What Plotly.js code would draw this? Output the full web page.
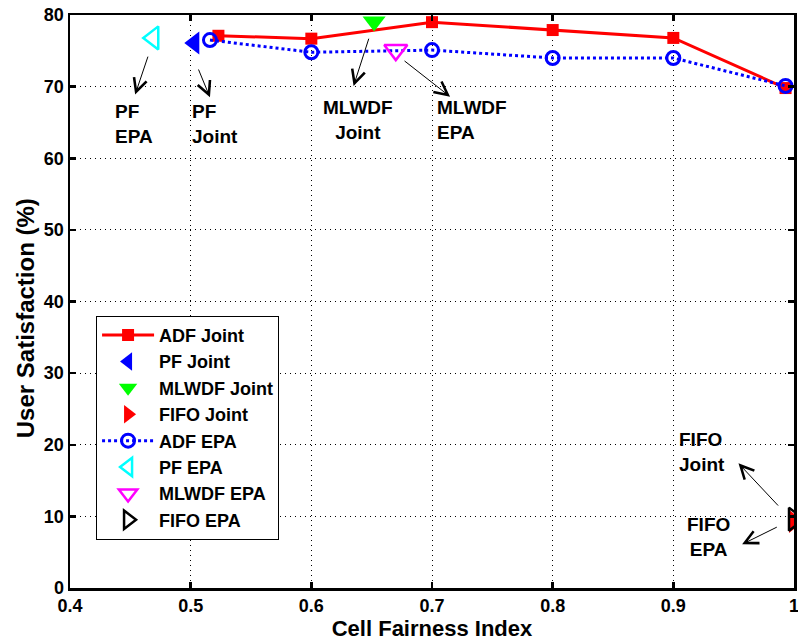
<!DOCTYPE html>
<html>
<head>
<meta charset="utf-8">
<script src="https://cdn.plot.ly/plotly-3.0.1.min.js"></script>
<style>html,body{margin:0;padding:0;background:#fff;}#chart{width:798px;height:641px;}</style>
</head>
<body>
<div id="chart"></div>
<script>
// ---- data ----
const adfJointX = [0.523, 0.6, 0.7, 0.8, 0.9, 0.993];
const adfJointY = [77.1, 76.7, 79.0, 77.9, 76.8, 69.8];
const adfEpaX = [0.516, 0.6, 0.7, 0.8, 0.9, 0.993];
const adfEpaY = [76.5, 74.8, 75.1, 74.0, 74.0, 70.1];
const pfJointX = [0.503], pfJointY = [76.1];
const pfEpaX = [0.469], pfEpaY = [76.8];
const mlwdfJointX = [0.652], mlwdfJointY = [79.1];
const mlwdfEpaX = [0.670], mlwdfEpaY = [75.1];
const fifoJointX = [1.0], fifoJointY = [9.3];
const fifoEpaX = [1.0], fifoEpaY = [9.6];
const seriesNames = ['ADF Joint','PF Joint','MLWDF Joint','FIFO Joint','ADF EPA','PF EPA','MLWDF EPA','FIFO EPA'];
const xTickVals = [0.4, 0.5, 0.6, 0.7, 0.8, 0.9, 1.0];
const xTickText = ['0.4','0.5','0.6','0.7','0.8','0.9','1'];
const yTickVals = [0, 10, 20, 30, 40, 50, 60, 70, 80];
const xTitle = 'Cell Fairness Index';
const yTitle = 'User Satisfaction (%)';
// labels
const labelTexts = ['PF<br>EPA','PF<br>Joint','MLWDF<br>Joint','MLWDF<br>EPA','FIFO<br>Joint','FIFO<br>EPA'];
const labelX = [0.453, 0.520, 0.639, 0.733, 0.924, 0.929];
const labelY = [64.8, 64.8, 65.3, 65.3, 19.0, 7.1];
const labelAlign = ['left','left','center','left','left','center'];
// arrows: tail (near marker) -> head (near text)
const arrowTailX = [0.465, 0.506, 0.648, 0.676, 0.988, 0.987];
const arrowTailY = [74.4, 72.6, 76.9, 73.75, 11.3, 8.6];
const arrowHeadX = [0.454, 0.516, 0.635, 0.715, 0.954, 0.957];
const arrowHeadY = [68.9, 68.5, 70.1, 68.6, 17.4, 6.1];

const FONT = 'Liberation Sans, Arial, sans-serif';
const bold = (size) => ({family: FONT, size: size, color: '#000', weight: 'bold'});

const traces = [
  {x: adfJointX, y: adfJointY, name: seriesNames[0], mode: 'lines+markers',
   line: {color: '#ff0000', width: 3}, marker: {symbol: 'square', size: 12, color: '#ff0000'}},
  {x: pfJointX, y: pfJointY, name: seriesNames[1], mode: 'markers',
   marker: {symbol: 'triangle-left', size: 20, color: '#0000ff'}},
  {x: mlwdfJointX, y: mlwdfJointY, name: seriesNames[2], mode: 'markers',
   marker: {symbol: 'triangle-down', size: 20, color: '#00ff00'}},
  {x: fifoJointX, y: fifoJointY, name: seriesNames[3], mode: 'markers',
   marker: {symbol: 'triangle-right', size: 20, color: '#ff0000'}},
  {x: adfEpaX, y: adfEpaY, name: seriesNames[4], mode: 'lines+markers',
   line: {color: '#0000ff', width: 3, dash: 'dot'},
   marker: {symbol: 'circle-open', size: 13, color: '#0000ff', line: {width: 3, color: '#0000ff'}}},
  {x: pfEpaX, y: pfEpaY, name: seriesNames[5], mode: 'markers',
   marker: {symbol: 'triangle-left-open', size: 20, color: '#00ffff', line: {width: 2.5, color: '#00ffff'}}},
  {x: mlwdfEpaX, y: mlwdfEpaY, name: seriesNames[6], mode: 'markers',
   marker: {symbol: 'triangle-down-open', size: 20, color: '#ff00ff', line: {width: 2.5, color: '#ff00ff'}}},
  {x: fifoEpaX, y: fifoEpaY, name: seriesNames[7], mode: 'markers',
   marker: {symbol: 'triangle-right-open', size: 20, color: '#000000', line: {width: 2.5, color: '#000000'}}}
];

const annotations = [];
for (let i = 0; i < labelTexts.length; i++) {
  annotations.push({x: labelX[i], y: labelY[i], xref: 'x', yref: 'y', text: labelTexts[i],
    showarrow: false, align: labelAlign[i], font: bold(19)});
  annotations.push({x: arrowHeadX[i], y: arrowHeadY[i], xref: 'x', yref: 'y',
    ax: arrowTailX[i], ay: arrowTailY[i], axref: 'x', ayref: 'y', text: '',
    showarrow: true, arrowhead: 5, arrowsize: 2.6, arrowwidth: 1, arrowcolor: '#000'});
}
// y-axis title as rotated annotation (positioned like the reference)
annotations.push({xref: 'paper', yref: 'paper', x: -0.062, y: 0.471, xanchor: 'center', yanchor: 'middle',
  text: yTitle, textangle: -90, showarrow: false, font: bold(24)});

const axisCommon = {
  showline: true, linecolor: '#000', linewidth: 2.5, mirror: 'ticks',
  ticks: 'inside', ticklen: 6, tickwidth: 2.5, tickcolor: '#000',
  showgrid: true, gridcolor: '#000', griddash: '1px,4px', gridwidth: 1,
  zeroline: false, tickfont: bold(18), ticklabeloverflow: 'allow'
};

const layout = {
  width: 798, height: 641,
  margin: {l: 70, r: 4, t: 15, b: 53},
  paper_bgcolor: '#fff', plot_bgcolor: '#fff',
  font: {family: FONT, color: '#000'},
  showlegend: true,
  xaxis: Object.assign({}, axisCommon, {range: [0.4, 1.0], tickmode: 'array', tickvals: xTickVals, ticktext: xTickText,
    title: {text: xTitle, font: bold(22), standoff: 3}}),
  yaxis: Object.assign({}, axisCommon, {range: [0, 80], tickmode: 'array', tickvals: yTickVals}),
  legend: {x: 0.036, y: 0.475, xanchor: 'left', yanchor: 'top', bgcolor: '#fff',
    bordercolor: '#000', borderwidth: 1, font: bold(18), itemwidth: 52, tracegroupgap: 0},
  annotations: annotations
};

Plotly.newPlot('chart', traces, layout, {displayModeBar: false, staticPlot: true});
</script>
</body>
</html>
